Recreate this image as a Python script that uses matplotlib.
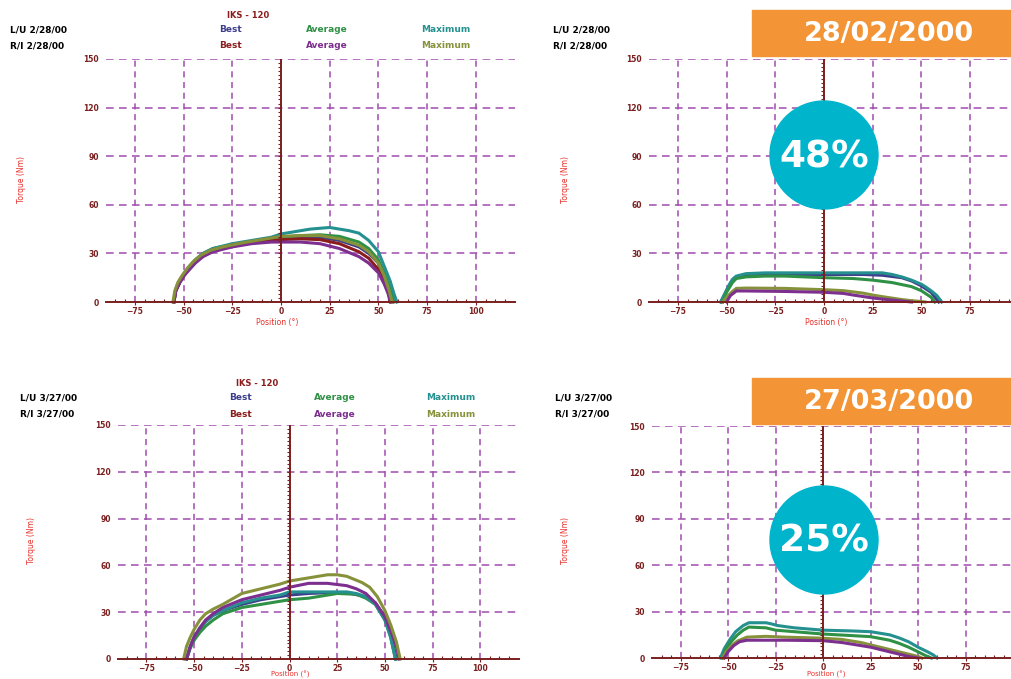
import numpy as np
import matplotlib
matplotlib.use("Agg")
import matplotlib.pyplot as plt
from matplotlib.patches import Rectangle, Ellipse

W, H = 1011, 679

# axis ticks
x_ticks = [-75, -50, -25, 0, 25, 50, 75, 100]
y_ticks = [0, 30, 60, 90, 120, 150]

# legend / header text
test_name = "IKS - 120"
series_names = ["Best", "Average", "Maximum"]
feb_dates = ["L/U 2/28/00", "R/I 2/28/00"]
mar_dates = ["L/U 3/27/00", "R/I 3/27/00"]
badge_dates = ["28/02/2000", "27/03/2000"]
badge_pcts = ["48%", "25%"]

# ---- 28/02/2000, left chart (torque vs position) ----
feb_l_teal_x = [-55, -54, -52, -50, -47, -44, -40, -35, -25, -15, -5, 0, 5, 10, 15, 20, 25, 30, 35, 40, 45, 50, 53, 56, 58, 59.5]
feb_l_teal_y = [0, 8, 13, 17, 22, 26, 30, 33, 36, 38, 40, 42, 43, 44, 45, 45.5, 46, 45, 44, 42.5, 38, 31, 22, 13, 5, 0]
feb_l_green_x = [-55, -54, -52, -50, -47, -44, -40, -35, -25, -15, -5, 0, 10, 20, 30, 40, 45, 50, 53, 56, 58]
feb_l_green_y = [0, 8, 13, 17, 22, 26, 30, 33, 35.5, 37.5, 39, 40, 41, 41.5, 40.5, 37, 33, 26, 18, 8, 0]
feb_l_navy_x = [-55, -54, -52, -50, -47, -44, -40, -35, -25, -15, -5, 0, 10, 20, 30, 40, 45, 50, 53, 55, 57]
feb_l_navy_y = [0, 7, 12, 16, 21, 25, 29, 32, 35, 37, 38.5, 39, 40, 40, 38, 34, 30, 24, 16, 8, 0]
feb_l_red_x = [-55, -54, -52, -50, -47, -44, -40, -35, -25, -15, -5, 0, 10, 20, 30, 40, 45, 50, 53, 55, 56.5]
feb_l_red_y = [0, 7, 12, 16, 21, 25, 29, 32, 35, 37, 38, 38.5, 39, 38.5, 36, 31, 27, 20, 13, 6, 0]
feb_l_purple_x = [-55, -54, -52, -50, -47, -44, -40, -35, -25, -15, -5, 0, 10, 20, 30, 40, 45, 50, 53, 55, 56]
feb_l_purple_y = [0, 7, 12, 16, 20, 24, 28, 31, 34, 36, 37, 37, 37, 36, 33, 28, 24, 18, 11, 5, 0]
feb_l_olive_x = [-55.5, -54.5, -53, -51, -48, -45, -41, -36, -30, -20, -10, 0, 10, 20, 30, 40, 45, 50, 53, 55.5, 57]
feb_l_olive_y = [0, 7, 12, 16, 21, 25, 29, 32, 34, 36.5, 38.5, 40.5, 41, 41, 39, 35, 31, 24, 16, 7, 0]

# ---- 28/02/2000, right chart ----
feb_r_teal_x = [-53, -51, -49, -47, -45, -40, -30, -20, 0, 20, 30, 35, 40, 45, 50, 52, 55, 58, 60.5]
feb_r_teal_y = [0, 5, 10, 14, 16, 17.5, 18, 18, 18, 18, 18, 17, 15.5, 13.5, 11, 9.5, 7, 4, 0]
feb_r_navy_x = [-53, -51, -49, -47, -45, -40, -30, -20, 0, 20, 30, 40, 45, 50, 55, 59]
feb_r_navy_y = [0, 4.5, 9, 13, 15, 16.5, 17, 17, 17, 17, 16.5, 15, 13, 10, 6, 0]
feb_r_green_x = [-52, -50, -47, -45, -40, -30, -20, 0, 15, 25, 35, 45, 50, 55, 57]
feb_r_green_y = [0, 6, 12, 14.5, 15.5, 16, 16, 15, 14.5, 13.5, 12, 9.5, 7, 3, 0]
feb_r_olive_x = [-52, -50, -47, -45, -40, -20, 0, 10, 20, 25, 30, 40, 45, 50, 52]
feb_r_olive_y = [0, 3, 6.5, 8.4, 8.6, 8.4, 7.6, 7, 5.5, 4.3, 3.3, 1.5, 0.8, 0.3, 0]
feb_r_purple_x = [-50, -48, -45, -40, -20, 0, 10, 15, 20, 25, 30, 40, 45]
feb_r_purple_y = [0, 4, 6.8, 6.8, 6.5, 6, 5.3, 4.3, 3.4, 2.5, 1.8, 0.6, 0]

# ---- 27/03/2000, left chart ----
mar_l_teal_x = [-54, -52, -50, -47, -44, -40, -35, -25, -15, -5, 0, 10, 20, 30, 35, 40, 45, 50, 53, 55.5]
mar_l_teal_y = [0, 8, 14, 20, 24, 28, 31, 36, 39, 41, 43, 43, 43, 43, 42, 40, 35, 25, 14, 0]
mar_l_navy_x = [-54, -52, -50, -47, -44, -40, -35, -25, -15, -5, 0, 10, 20, 30, 40, 45, 50, 53, 56]
mar_l_navy_y = [0, 8, 14, 19, 24, 28, 31, 35, 38, 40, 41, 42, 42.5, 42.5, 40, 36, 27, 16, 0]
mar_l_green_x = [-54, -52, -50, -47, -44, -40, -35, -25, -15, -5, 0, 10, 20, 25, 35, 40, 45, 50, 53, 55.5]
mar_l_green_y = [0, 7, 12, 17, 21, 25, 29, 33, 35, 37, 38, 39, 41, 42, 41.5, 39, 35, 25, 14, 0]
mar_l_purple_x = [-54, -52, -50, -47, -44, -40, -35, -25, -15, -5, 0, 10, 20, 30, 35, 40, 45, 50, 53, 56, 57.5]
mar_l_purple_y = [0, 8, 14, 20, 25, 29, 33, 38, 41, 44, 46, 48.5, 48.5, 47, 45, 42, 36, 27, 18, 8, 0]
mar_l_olive_x = [-55.5, -54, -52, -50, -47, -44, -40, -35, -25, -15, -5, 0, 10, 20, 25, 30, 38, 42, 46, 50, 53, 56, 58]
mar_l_olive_y = [0, 8, 14, 19, 25, 29, 32, 35, 42, 45, 48, 50, 52, 54, 54, 53, 49, 46, 40, 31, 22, 11, 0]

# ---- 27/03/2000, right chart ----
mar_r_teal_x = [-54, -52, -49, -46, -42, -39, -30, -27, -24, -15, 0, 15, 25, 35, 40, 45, 50, 55, 58, 60]
mar_r_teal_y = [0, 6, 12, 17, 21, 22.8, 22.8, 22, 21, 19.5, 18, 17.5, 17, 15, 13, 10.5, 7, 4, 2, 0]
mar_r_green_x = [-53, -51, -48, -45, -42, -39, -30, -25, -15, 0, 15, 25, 35, 40, 45, 50, 54, 57]
mar_r_green_y = [0, 6, 11, 15, 18, 20, 19.5, 18, 17, 15.5, 14.5, 13.8, 11.5, 9.5, 7, 4, 1.5, 0]
mar_r_olive_x = [-53, -51, -48, -45, -40, -30, -20, 0, 10, 20, 25, 30, 40, 45, 50, 52]
mar_r_olive_y = [0, 4, 8, 11, 13.5, 14, 13.5, 12.8, 12, 10, 8.5, 7, 4, 2.5, 1, 0]
mar_r_purple_x = [-52, -50, -47, -44, -40, -30, -20, 0, 10, 20, 25, 30, 40, 45, 50]
mar_r_purple_y = [0, 4, 8, 10.5, 11.5, 11.5, 11.5, 11.2, 10, 8, 7, 5.5, 2.5, 1, 0]

# colours
NAVY, GREEN, TEAL = "#3d3d8c", "#2f9146", "#24908f"
DRED, PURPLE, OLIVE = "#8b1c1c", "#7d2f8f", "#86913a"
MAROON = "#7a1f1f"
GRIDC = "#a04cad"
ORANGE = "#f39536"
CYAN = "#00b4cc"


def fx(x):
    return x / W


def fy(y):
    return 1 - y / H


def add_panel(fig, left, right, top, bottom, xmax, curves):
    ax = fig.add_axes([fx(left), fy(bottom), fx(right - left), (bottom - top) / H])
    ax.set_xlim(-90, xmax)
    ax.set_ylim(0, 150)
    ax.set_facecolor("none")
    for s in ["top", "right", "left"]:
        ax.spines[s].set_visible(False)
    ax.spines["bottom"].set_color(MAROON)
    ax.spines["bottom"].set_linewidth(1.4)
    ax.spines["bottom"].set_zorder(5)

    # dashed grid
    ax.hlines(y_ticks[1:], -90, xmax, colors=GRIDC, linestyles=(0, (5, 3.5)), linewidth=1.1, zorder=1)
    gx = [v for v in x_ticks if v != 0 and v < xmax]
    ax.vlines(gx, 0, 150, colors=GRIDC, linestyles=(0, (4, 3)), linewidth=1.1, zorder=1)

    # vertical axis at 0 with minor ticks
    ax.axvline(0, color=MAROON, linewidth=1.4, zorder=5)
    yt = np.arange(2.5, 150, 2.5)
    ax.plot(np.zeros(len(yt)), yt, ls="none", marker=0, ms=2.5, mew=0.8, color=MAROON, zorder=5)

    ax.set_xticks([v for v in x_ticks if v < xmax])
    ax.set_xticks(np.arange(-85, xmax, 5), minor=True)
    ax.set_yticks(y_ticks)
    ax.tick_params(axis="x", which="major", colors=MAROON, length=2, width=0.8, pad=1.5, labelsize=5.5)
    ax.tick_params(axis="x", which="minor", colors=MAROON, direction="in", length=2.5, width=0.8)
    ax.tick_params(axis="y", length=0, pad=5, colors=MAROON, labelsize=5.5)
    for lab in ax.get_xticklabels() + ax.get_yticklabels():
        lab.set_fontweight("bold")

    for xs, ys, c in curves:
        ax.plot(xs, ys, color=c, linewidth=2.2, clip_on=False, zorder=3, solid_joinstyle="miter")
    return ax


def header(fig, x_date, y1, dates, legend=None):
    fig.text(fx(x_date), fy(y1), dates[0], fontsize=6.5, fontweight="bold", va="center")
    fig.text(fx(x_date), fy(y1 + 16), dates[1], fontsize=6.5, fontweight="bold", va="center")
    if legend is None:
        return
    title_x, centers = legend
    fig.text(fx(title_x), fy(y1 - 15), test_name, fontsize=6, fontweight="bold", color=DRED, ha="center", va="center")
    row1 = [NAVY, GREEN, TEAL]
    row2 = [DRED, PURPLE, OLIVE]
    for name, cx, c1, c2 in zip(series_names, centers, row1, row2):
        fig.text(fx(cx), fy(y1), name, fontsize=6.5, fontweight="bold", color=c1, ha="center", va="center")
        fig.text(fx(cx), fy(y1 + 16), name, fontsize=6.5, fontweight="bold", color=c2, ha="center", va="center")


def axis_labels(fig, ylab_x, ylab_y, xlab_x, xlab_y, size=5.5):
    fig.text(fx(ylab_x), fy(ylab_y), "Torque (Nm)", rotation=90, fontsize=5.5, color="#e8302a",
             ha="center", va="center")
    fig.text(fx(xlab_x), fy(xlab_y), "Position (°)", fontsize=size, color="#e8302a",
             ha="center", va="center")


def badge(fig, date_text, pct_text, box_top, circ_y):
    fig.patches.append(Rectangle((fx(752), fy(box_top + 46)), fx(1011 - 752), 46 / H,
                                 transform=fig.transFigure, color=ORANGE, zorder=10))
    fig.text(fx(889), fy(box_top + 24), date_text, fontsize=19.5, fontweight="bold", color="white",
             ha="center", va="center", zorder=11)
    fig.patches.append(Ellipse((fx(824), fy(circ_y)), 108 / W, 108 / H,
                               transform=fig.transFigure, color=CYAN, zorder=10))
    fig.text(fx(824), fy(circ_y + 2), pct_text, fontsize=27, fontweight="bold", color="white",
             ha="center", va="center", zorder=11)


fig = plt.figure(figsize=(W / 100, H / 100), dpi=100)

add_panel(fig, 105.7, 514.8, 59, 302, 120, [
    (feb_l_navy_x, feb_l_navy_y, NAVY),
    (feb_l_green_x, feb_l_green_y, GREEN),
    (feb_l_teal_x, feb_l_teal_y, TEAL),
    (feb_l_red_x, feb_l_red_y, DRED),
    (feb_l_purple_x, feb_l_purple_y, PURPLE),
    (feb_l_olive_x, feb_l_olive_y, OLIVE),
])
add_panel(fig, 648.7, 1011, 59, 302, 96.1, [
    (feb_r_navy_x, feb_r_navy_y, NAVY),
    (feb_r_teal_x, feb_r_teal_y, TEAL),
    (feb_r_green_x, feb_r_green_y, GREEN),
    (feb_r_olive_x, feb_r_olive_y, OLIVE),
    (feb_r_purple_x, feb_r_purple_y, PURPLE),
])
add_panel(fig, 117.8, 518.5, 425, 659, 120, [
    (mar_l_navy_x, mar_l_navy_y, NAVY),
    (mar_l_green_x, mar_l_green_y, GREEN),
    (mar_l_teal_x, mar_l_teal_y, TEAL),
    (mar_l_purple_x, mar_l_purple_y, PURPLE),
    (mar_l_olive_x, mar_l_olive_y, OLIVE),
])
add_panel(fig, 652, 1011, 426, 658, 98.9, [
    (mar_r_teal_x, mar_r_teal_y, TEAL),
    (mar_r_green_x, mar_r_green_y, GREEN),
    (mar_r_olive_x, mar_r_olive_y, OLIVE),
    (mar_r_purple_x, mar_r_purple_y, PURPLE),
])

header(fig, 10, 30, feb_dates, (248, [231, 327, 446]))
header(fig, 553, 30, feb_dates)
header(fig, 20, 398, mar_dates, (257, [241, 335, 451]))
header(fig, 555, 398, mar_dates)

axis_labels(fig, 22, 180, 277, 323)
axis_labels(fig, 566, 180, 826, 323)
axis_labels(fig, 32, 540, 290, 674.5, size=5)
axis_labels(fig, 566, 540, 826, 674.5, size=5)

badge(fig, badge_dates[0], badge_pcts[0], 10, 155)
badge(fig, badge_dates[1], badge_pcts[1], 378, 540)

fig.savefig("out.png", dpi=100)
